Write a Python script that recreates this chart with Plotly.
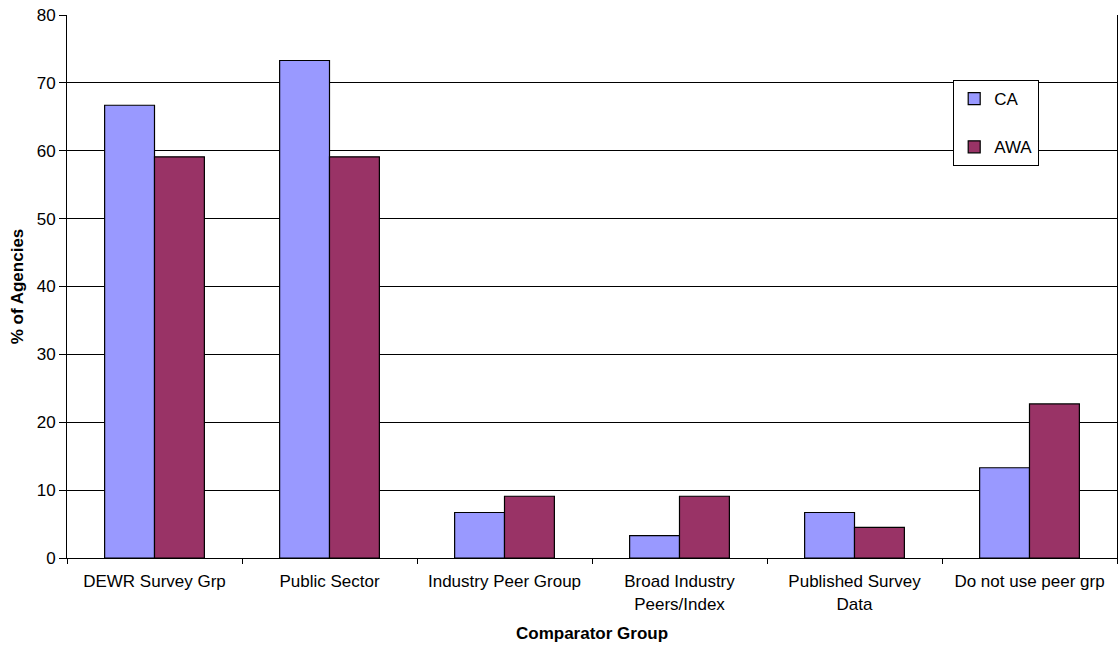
import plotly.graph_objects as go

categories = ["DEWR Survey Grp", "Public Sector", "Industry Peer Group",
              "Broad Industry<br>Peers/Index", "Published Survey<br>Data",
              "Do not use peer grp"]
ca_values = [66.7, 73.3, 6.7, 3.3, 6.7, 13.3]
awa_values = [59.1, 59.1, 9.1, 9.1, 4.5, 22.7]
y_ticks = [0, 10, 20, 30, 40, 50, 60, 70, 80]

font_family = "Liberation Sans, Arial, sans-serif"
fs = 17

fig = go.Figure()
fig.add_trace(go.Bar(
    name="CA", x=categories, y=ca_values, legendgroup="ca",
    marker=dict(color="#9999FF", line=dict(color="black", width=1.2)),
))
fig.add_trace(go.Bar(
    name="AWA", x=categories, y=awa_values, legendgroup="awa",
    marker=dict(color="#993366", line=dict(color="black", width=1.2)),
))

fig.update_layout(
    width=1119, height=646,
    margin=dict(l=67, r=2, t=15, b=88),
    plot_bgcolor="white", paper_bgcolor="white",
    barmode="group", bargap=0.43, bargroupgap=0,
    font=dict(family=font_family, size=fs, color="black"),
    legend=dict(
        x=0.844, y=0.88, xanchor="left", yanchor="top",
        bordercolor="black", borderwidth=1, bgcolor="white",
        tracegroupgap=23, itemwidth=30,
        font=dict(family=font_family, size=fs),
        itemclick=False,
    ),
    showlegend=True,
)

fig.update_xaxes(
    showline=True, linecolor="black", linewidth=1,
    ticks="outside", tickson="boundaries", ticklen=5, tickcolor="black",
    ticklabelstandoff=8,
    title=dict(text="<b>Comparator Group</b>", font=dict(size=fs), standoff=14),
    tickfont=dict(size=fs),
)
fig.update_yaxes(
    range=[0, 80], tickvals=y_ticks,
    showgrid=True, gridcolor="black", gridwidth=1,
    showline=True, linecolor="black", linewidth=1, mirror=True,
    ticks="outside", ticklen=7, tickcolor="black",
    title=dict(text="<b>% of Agencies</b>", font=dict(size=fs), standoff=8),
    tickfont=dict(size=fs),
    zeroline=False,
)

fig.write_html("out.html")
